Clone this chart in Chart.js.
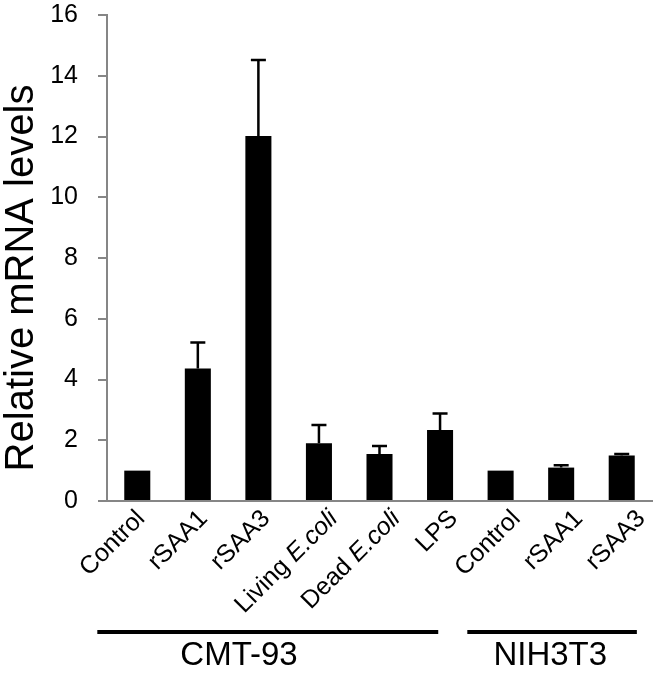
<!DOCTYPE html>
<html>
<head>
<meta charset="utf-8">
<script src="https://cdn.jsdelivr.net/npm/chart.js@4.4.0/dist/chart.umd.min.js"></script>
<style>
  html, body { margin: 0; padding: 0; background: #fff; }
  .c-chart { width: 661px; height: 673px; }
</style>
</head>
<body>
<div class="c-chart"><canvas id="mrnaChart"></canvas></div>
<script>
// Data
const categories = ["Control", "rSAA1", "rSAA3", "Living E.coli", "Dead E.coli", "LPS", "Control", "rSAA1", "rSAA3"];
const meanValues = [1.0, 4.36, 12.02, 1.9, 1.55, 2.34, 1.0, 1.1, 1.5];
const errorValues = [0, 0.86, 2.5, 0.6, 0.26, 0.54, 0, 0.08, 0.05];
const yTicks = [0, 2, 4, 6, 8, 10, 12, 14, 16];
const cellLines = ["CMT-93", "NIH3T3"];
const italicTerms = ["E.coli"];

// Where the group lines go (in category index units)
const groupSpans = [
  { from: -0.66, to: 4.97, labelAt: 1.68 },
  { from: 5.45, to: 8.25, labelAt: 6.82 },
];

const FONT = "'Liberation Sans', Arial, sans-serif";
const AXIS_GREY = "#868686";

// Error bars (upper only, like the original)
const errorBars = {
  id: "errorBars",
  afterDatasetsDraw(chart) {
    const ctx = chart.ctx;
    const y = chart.scales.y;
    const bars = chart.getDatasetMeta(0).data;
    ctx.save();
    ctx.strokeStyle = "#000";
    ctx.lineWidth = 2.5;
    bars.forEach((bar, i) => {
      if (!errorValues[i]) return;
      const top = y.getPixelForValue(meanValues[i] + errorValues[i]);
      const base = y.getPixelForValue(meanValues[i]);
      ctx.beginPath();
      ctx.moveTo(bar.x, base);
      ctx.lineTo(bar.x, top);
      ctx.moveTo(bar.x - 7.5, top);
      ctx.lineTo(bar.x + 7.5, top);
      ctx.stroke();
    });
    ctx.restore();
  },
};

// Rotated category labels with italic species names, group lines, y title
const annotations = {
  id: "annotations",
  afterDraw(chart) {
    const ctx = chart.ctx;
    const x = chart.scales.x;
    const area = chart.chartArea;
    ctx.save();
    ctx.fillStyle = "#000";

    // category labels
    categories.forEach((label, i) => {
      const parts = label.split(" ").map((word, k, all) => ({
        text: word + (k < all.length - 1 ? " " : ""),
        italic: italicTerms.includes(word),
      }));
      let total = 0;
      for (let p of parts) {
        ctx.font = (p.italic ? "italic " : "") + "25px " + FONT;
        p.w = ctx.measureText(p.text).width;
        total += p.w;
      }
      const hasItalic = parts.some((p) => p.italic);
      ctx.save();
      ctx.translate(x.getPixelForValue(i) - 5 + 2 * i + (hasItalic ? 5 : 0), area.bottom + 5);
      ctx.rotate(-Math.PI / 4);
      ctx.textBaseline = "top";
      ctx.textAlign = "left";
      let pos = -total;
      for (let p of parts) {
        ctx.font = (p.italic ? "italic " : "") + "25px " + FONT;
        ctx.fillText(p.text, pos, 0);
        pos += p.w;
      }
      ctx.restore();
    });

    // group lines + cell line names
    ctx.lineWidth = 4;
    ctx.strokeStyle = "#000";
    ctx.font = "33px " + FONT;
    ctx.textAlign = "center";
    ctx.textBaseline = "middle";
    groupSpans.forEach((g, i) => {
      ctx.beginPath();
      ctx.moveTo(x.getPixelForValue(g.from), area.bottom + 131);
      ctx.lineTo(x.getPixelForValue(g.to), area.bottom + 131);
      ctx.stroke();
      ctx.fillText(cellLines[i], x.getPixelForValue(g.labelAt), area.bottom + 155);
    });

    // y axis title
    ctx.save();
    ctx.translate(22, (area.top + area.bottom) / 2 + 20);
    ctx.rotate(-Math.PI / 2);
    ctx.font = "40px " + FONT;
    ctx.fillText("Relative mRNA levels", 0, 0);
    ctx.restore();

    ctx.restore();
  },
};

const mrnaChart = new Chart(document.getElementById("mrnaChart"), {
  type: "bar",
  data: {
    labels: categories,
    datasets: [
      {
        data: meanValues,
        backgroundColor: "#000",
        borderWidth: 0,
        categoryPercentage: 1,
        barPercentage: 0.43,
      },
    ],
  },
  options: {
    responsive: true,
    maintainAspectRatio: false,
    animation: false,
    layout: { padding: { top: 15, right: 9, left: 0, bottom: 0 } },
    plugins: {
      legend: { display: false },
      tooltip: { enabled: false },
    },
    scales: {
      x: {
        ticks: { display: false },
        grid: { display: false },
        border: { color: AXIS_GREY, width: 2 },
        afterFit: (scale) => {
          scale.height = 172;
        },
      },
      y: {
        min: yTicks[0],
        max: yTicks[yTicks.length - 1],
        afterBuildTicks: (scale) => {
          scale.ticks = yTicks.map((v) => ({ value: v }));
        },
        ticks: {
          color: "#000",
          padding: 20,
          font: { family: FONT, size: 25 },
        },
        grid: {
          drawOnChartArea: false,
          drawTicks: true,
          tickLength: 9,
          color: AXIS_GREY,
          lineWidth: 2,
        },
        border: { color: AXIS_GREY, width: 2 },
        afterFit: (scale) => {
          scale.width = 107;
          scale.paddingTop = 0;
          scale.paddingBottom = 0;
        },
      },
    },
  },
  plugins: [errorBars, annotations],
});
</script>
</body>
</html>
